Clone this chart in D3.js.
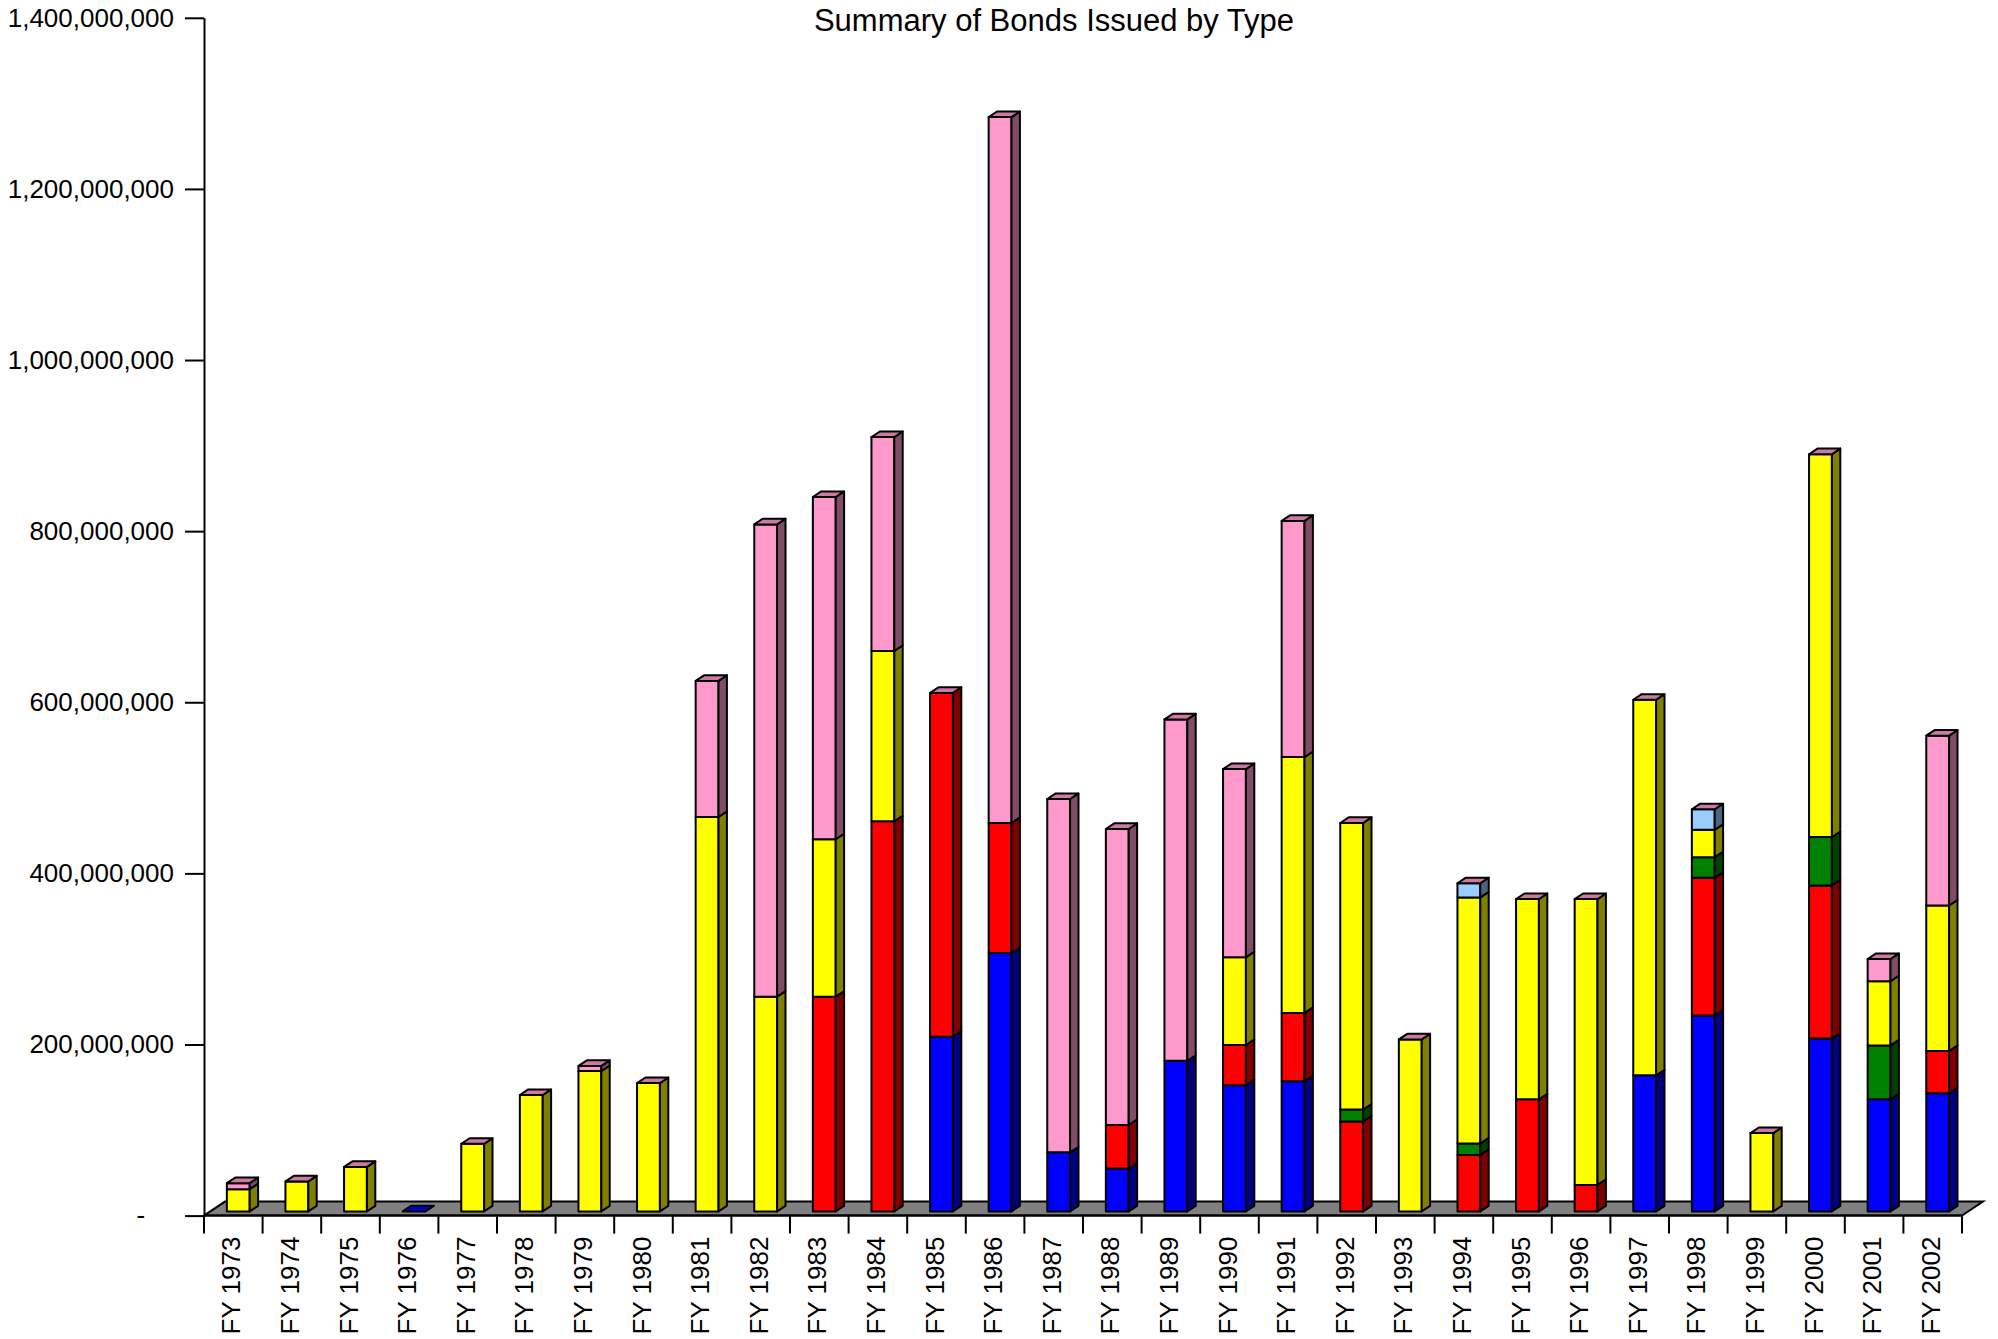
<!DOCTYPE html>
<html><head><meta charset="utf-8">
<script src="https://cdn.jsdelivr.net/npm/d3@7"></script>
<style>
body{margin:0;background:#fff}
svg{display:block}
text{font-family:"Liberation Sans",Arial,Helvetica,sans-serif;fill:#000}
</style>
</head><body>
<svg id="chart" width="1998" height="1339"></svg>
<script>
// ---- data (values in millions of dollars) ----
const categories = ["FY 1973","FY 1974","FY 1975","FY 1976","FY 1977","FY 1978","FY 1979","FY 1980","FY 1981","FY 1982","FY 1983","FY 1984","FY 1985","FY 1986","FY 1987","FY 1988","FY 1989","FY 1990","FY 1991","FY 1992","FY 1993","FY 1994","FY 1995","FY 1996","FY 1997","FY 1998","FY 1999","FY 2000","FY 2001","FY 2002"];
const seriesNames = ["Type 1","Type 2","Type 3","Type 4","Type 5","Type 6"];
const type1Values = [0,0,0,0,0,0,0,0,0,0,0,0,204,302,69,50,176,147.5,152,0,0,0,0,0,159,229,0,202,131,138];
const type2Values = [0,0,0,null,0,0,0,0,0,0,251,456,402,152,0,51,0,47,80,105,0,66,131,31,0,161,0,179,0,49.5];
const type3Values = [0,0,0,null,0,0,0,0,0,0,0,0,0,0,0,0,0,0,0,14,0,13.5,0,0,0,24,0,56.5,63,0];
const type4Values = [26,35,52,null,79,136,164,150,461,251,184,199,0,0,0,0,0,102.5,299,335,201,287.5,234,334,439,32,91.5,447.5,75,170];
const type5Values = [0,0,0,null,0,0,0,0,0,0,0,0,0,0,0,0,0,0,0,0,0,16.5,0,0,0,24,0,0,0,0];
const type6Values = [7,0,0,null,0,0,6,0,159,552,400,250,0,825,413,346,399,220,276,0,0,0,0,0,0,0,0,0,26,198.5];
const yTickValues = [0,200,400,600,800,1000,1200,1400];
const UNIT = 1e6;

// ---- styles ----
const frontColors = ["#0000FF","#FF0000","#008000","#FFFF00","#99CCFF","#FF99CC"];
const sideColors  = ["#000080","#800000","#004000","#808000","#4D6680","#804D66"];
const topColors   = ["#0000CC","#CC0000","#006600","#CCCC00","#7AA3CC","#CC7AA3"];

(function(){
const seriesValues = [type1Values,type2Values,type3Values,type4Values,type5Values,type6Values];
const rows = categories.map((c,i)=>{
  const o = {cat:c};
  seriesNames.forEach((s,j)=>{ const v = seriesValues[j][i]; o[s] = v==null ? null : v*UNIT; });
  return o;
});
const layers = d3.stack().keys(seriesNames).value((d,k)=>d[k]||0)(rows);

const svg = d3.select("#chart");
const pL = 204, pR = 1962, pT = 17.8, pB = 1215.6;
const x = d3.scaleBand().domain(categories).range([pL,pR]).padding(0);
const y = d3.scaleLinear().domain([0,1400*UNIT]).range([pB,pT]);
const bw = x.bandwidth();

const floorD = {dx:21, dy:-14};
const frontOff = {dx:floorD.dx*0.3, dy:floorD.dy*0.3};
const depth = {dx:floorD.dx*0.4, dy:floorD.dy*0.4};

// title
svg.append("text").attr("x",1054).attr("y",31).attr("text-anchor","middle")
  .style("font-size","31px").text("Summary of Bonds Issued by Type");

// floor
const y0 = y(0);
svg.append("path")
  .attr("d",`M${pL},${y0}L${pR},${y0}L${pR+floorD.dx},${y0+floorD.dy}L${pL+floorD.dx},${y0+floorD.dy}Z`)
  .attr("fill","#808080").attr("stroke","#000").attr("stroke-width",2);

// bars
const gBars = svg.append("g");
categories.forEach((cat,i)=>{
  const xl = x(cat) + 0.39*bw;
  const xr = xl + 0.39*bw;
  const g = gBars.append("g");
  let topVal = 0, topIdx = -1;
  layers.forEach((layer,j)=>{
    const raw = rows[i][seriesNames[j]];
    if (raw == null) return;
    topIdx = j;
    const seg = layer[i];
    topVal = seg[1];
    if (seg[1]-seg[0] <= 0) return;
    const yb = y(seg[0]) + frontOff.dy, yt = y(seg[1]) + frontOff.dy;
    g.append("path").attr("d",`M${xl},${yb}L${xr},${yb}L${xr},${yt}L${xl},${yt}Z`)
      .attr("fill",frontColors[j]).attr("stroke","#000").attr("stroke-width",2).attr("stroke-linejoin","round");
    g.append("path").attr("d",`M${xr},${yb}L${xr+depth.dx},${yb+depth.dy}L${xr+depth.dx},${yt+depth.dy}L${xr},${yt}Z`)
      .attr("fill",sideColors[j]).attr("stroke","#000").attr("stroke-width",2).attr("stroke-linejoin","round");
  });
  if (topIdx >= 0) {
    const yt = y(topVal) + frontOff.dy;
    g.append("path").attr("d",`M${xl},${yt}L${xl+depth.dx},${yt+depth.dy}L${xr+depth.dx},${yt+depth.dy}L${xr},${yt}Z`)
      .attr("fill",topColors[topIdx]).attr("stroke","#000").attr("stroke-width",2).attr("stroke-linejoin","round");
  }
});

// y axis
const yAxis = d3.axisLeft(y).tickValues(yTickValues.map(v=>v*UNIT))
  .tickSize(19).tickSizeOuter(0).tickPadding(11)
  .tickFormat(v => v===0 ? "-\u2007\u2007" : d3.format(",")(v));
const gy = svg.append("g").attr("transform",`translate(${pL},0)`).call(yAxis);
gy.attr("font-family",null).attr("font-size",null);
gy.select(".domain").attr("stroke","#000").attr("stroke-width",2);
gy.selectAll(".tick line").attr("stroke","#000").attr("stroke-width",2);
gy.selectAll(".tick text").style("font-size","26px");

// x axis labels
const xAxis = d3.axisBottom(x).tickSize(0).tickSizeOuter(0);
const gx = svg.append("g").attr("transform",`translate(0,${y0})`).call(xAxis);
gx.attr("font-family",null).attr("font-size",null);
gx.select(".domain").remove();
gx.selectAll(".tick text")
  .attr("transform","rotate(-90)")
  .attr("x",-21).attr("y",-2).attr("dy","0.35em")
  .attr("text-anchor","end").style("font-size","26px");

// x axis line + boundary ticks
svg.append("line").attr("x1",pL).attr("x2",pR).attr("y1",y0).attr("y2",y0)
  .attr("stroke","#000").attr("stroke-width",2);
const bounds = categories.map(c=>x(c)).concat([pR]);
svg.append("g").selectAll("line").data(bounds).join("line")
  .attr("x1",d=>d).attr("x2",d=>d).attr("y1",y0).attr("y2",y0+18)
  .attr("stroke","#000").attr("stroke-width",2);
})();
</script>
</body></html>
